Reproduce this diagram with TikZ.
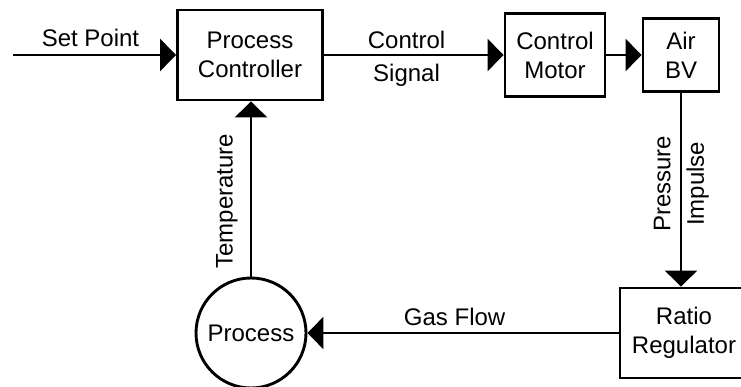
\documentclass[tikz,border=0pt]{standalone}
\usepackage{fontspec}
\setmainfont{Liberation Sans}
\usetikzlibrary{arrows.meta}

\begin{document}
\begin{tikzpicture}[x=1pt,y=-1pt,
    font=\fontsize{24}{29}\selectfont,
    block/.style={draw,line width=2.9pt,align=center,inner sep=0pt},
    arr/.style={-{Triangle[length=16pt,width=32pt]},line width=2.9pt}]
    \useasboundingbox (0,0) rectangle (741,387);
    \node[block,minimum width=145pt,minimum height=90pt] (ctrl) at (250,55) {Process\\Controller};
    \node[block,minimum width=100pt,minimum height=83pt] (motor) at (555,55) {Control\\Motor};
    \node[block,minimum width=76pt,minimum height=73pt] (airbv) at (681,55) {Air\\BV};
    \node[block,minimum width=128pt,minimum height=90pt] (ratio) at (684,333) {Ratio\\Regulator};
    \node[block,circle,minimum size=110pt] (proc) at (251,333) {Process};
    \coordinate (setpt) at (13,55);
    \draw[arr] (setpt) -- node[pos=.475,above,inner sep=7pt] (lblset) {Set Point} (ctrl);
    \draw[arr] (ctrl) -- node[pos=.46,above,inner sep=5pt] (lblctl) {Control}
        node[pos=.46,below,inner sep=8pt] (lblsig) {Signal} (motor);
    \draw[arr] (motor) -- (airbv);
    \draw[arr] (airbv) -- node[pos=.47,rotate=90,anchor=south,inner sep=9pt] (lblpre) {Pressure}
        node[pos=.47,rotate=90,anchor=north,inner sep=4pt] (lblimp) {Impulse} (airbv |- ratio.north);
    \draw[arr] (ratio) -- node[pos=.527,above,inner sep=6pt] (lblgas) {Gas Flow} (proc);
    \draw[arr] (proc) -- node[pos=.43,rotate=90,anchor=south,inner sep=12pt] (lbltemp) {Temperature} (proc |- ctrl.south);
  \end{tikzpicture}
\end{document}
